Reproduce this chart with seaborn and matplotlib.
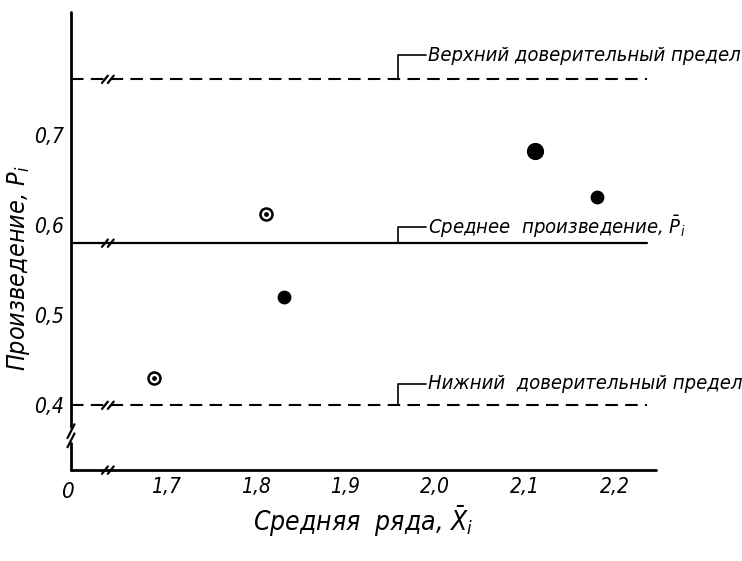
import matplotlib
matplotlib.use("Agg")
import matplotlib.pyplot as plt
import seaborn as sns
import pandas as pd
from matplotlib import font_manager as fm

# ---- data ----
x_mean = [1.687, 1.811, 1.831, 2.111, 2.180]
p_values = [0.430, 0.612, 0.520, 0.682, 0.631]
marker_kind = ["ring", "ring", "solid", "big", "solid"]

upper_limit = 0.762
mean_product = 0.580
lower_limit = 0.400

x_ticks = [1.7, 1.8, 1.9, 2.0, 2.1, 2.2]
x_tick_labels = ["1,7", "1,8", "1,9", "2,0", "2,1", "2,2"]
y_ticks = [0.4, 0.5, 0.6, 0.7]
y_tick_labels = ["0,4", "0,5", "0,6", "0,7"]

label_upper = "Верхний доверительный предел"
label_mean = r"Среднее  произведение, $\bar{P}_i$"
label_lower = "Нижний  доверительный предел"
x_label = r"Средняя  ряда, $\bar{X}_i$"
y_label = r"Произведение, $P_i$"

# ---- style ----
sns.set_style("white")
names = {f.name for f in fm.fontManager.ttflist}
fam = ['DejaVu Sans']
if 'Liberation Sans Narrow' in names:
    fam = ['Liberation Sans Narrow', 'DejaVu Sans']
plt.rcParams['font.family'] = fam
plt.rcParams['font.style'] = 'italic'
plt.rcParams['font.stretch'] = 'condensed'
plt.rcParams['mathtext.fontset'] = 'dejavusans'
plt.rcParams['mathtext.default'] = 'it'
plt.rcParams['text.color'] = 'black'
plt.rcParams['axes.labelcolor'] = 'black'
plt.rcParams['xtick.color'] = 'black'
plt.rcParams['ytick.color'] = 'black'

fig = plt.figure(figsize=(7.42, 5.61), dpi=100)
ax = fig.add_axes([0.0957, 0.162, 0.788, 0.817])

df = pd.DataFrame({"x": x_mean, "p": p_values, "kind": marker_kind})

ax.set_xlim(1.594, 2.246)
ax.set_ylim(0.328, 0.837)

# horizontal reference lines
ax.axhline(upper_limit, xmax=0.985, color="black", lw=1.5, ls=(0, (6, 3.5)))
ax.axhline(mean_product, xmax=0.985, color="black", lw=1.6)
ax.axhline(lower_limit, xmax=0.985, color="black", lw=1.5, ls=(0, (6, 3.5)))

# points
ring = df[df.kind == "ring"]
solid = df[df.kind == "solid"]
big = df[df.kind == "big"]
sns.scatterplot(data=ring, x="x", y="p", ax=ax, s=75, color="white",
                edgecolor="black", linewidth=1.8, zorder=5, legend=False)
sns.scatterplot(data=ring, x="x", y="p", ax=ax, s=12, color="black",
                edgecolor="black", linewidth=0, zorder=6, legend=False)
sns.scatterplot(data=solid, x="x", y="p", ax=ax, s=80, color="black",
                edgecolor="black", linewidth=1, zorder=5, legend=False)
sns.scatterplot(data=big, x="x", y="p", ax=ax, s=130, color="black",
                edgecolor="black", linewidth=1, zorder=5, legend=False)

# axes lines (drawn manually to allow breaks)
for s in ax.spines.values():
    s.set_visible(False)
tA = ax.transAxes
ax.plot([0, 0], [1.0, 0.095], transform=tA, color="black", lw=2, clip_on=False)
ax.plot([0, 0], [0.06, 0.0], transform=tA, color="black", lw=2, clip_on=False)
ax.plot([-0.006, 0.006], [0.07, 0.10], transform=tA, color="black", lw=1.6, clip_on=False)
ax.plot([-0.006, 0.006], [0.05, 0.08], transform=tA, color="black", lw=1.6, clip_on=False)
ax.plot([0, 1.0], [0, 0], transform=tA, color="black", lw=2, clip_on=False)

# break marks on x-axis and horizontal lines
for yv in [None, upper_limit, mean_product, lower_limit]:
    if yv is None:
        yy = 0.0
    else:
        yy = (yv - 0.328) / (0.837 - 0.328)
    for dx in (0.058, 0.068):
        ax.plot([dx - 0.005, dx + 0.005], [yy - 0.008, yy + 0.008], transform=tA,
                color="black", lw=1.6, clip_on=False)

# ticks
ax.set_xticks(x_ticks)
ax.set_xticklabels(x_tick_labels)
ax.set_yticks(y_ticks)
ax.set_yticklabels(y_tick_labels)
ax.tick_params(axis="both", direction="in", length=5, width=1, labelsize=15, pad=5,
               colors="black")
ax.text(-0.005, -0.025, "0", transform=tA, ha="center", va="top", fontsize=16)

ax.set_xlabel(x_label, fontsize=19, labelpad=5)
ax.set_ylabel(y_label, fontsize=18)
ax.yaxis.set_label_coords(-0.066, 0.44)

# annotation leaders
lead_x = 1.959
text_x = 1.992
for yv, txt, dy in [(upper_limit, label_upper, 0.027),
                    (mean_product, label_mean, 0.018),
                    (lower_limit, label_lower, 0.024)]:
    ax.plot([lead_x, lead_x, text_x - 0.002], [yv, yv + dy, yv + dy],
            color="black", lw=1.2)
    ax.text(text_x, yv + dy, txt, ha="left", va="center", fontsize=14.5)

fig.savefig("out.png", dpi=100)
